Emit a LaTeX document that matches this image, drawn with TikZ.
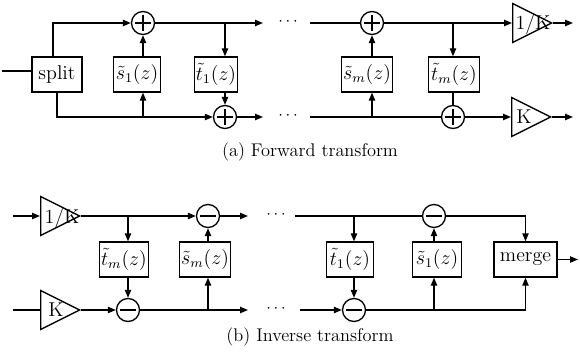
\documentclass[tikz,border=0pt]{standalone}
\usetikzlibrary{arrows.meta,shapes.geometric}
\tikzset{
  >={Triangle[length=4.8pt,width=3.8pt]},
  every path/.style={line width=0.8pt},
  lbl/.style={font=\fontsize{12}{14}\selectfont},
  blk/.style={draw, lbl, line width=0.8pt, minimum height=21pt, inner sep=1pt},
  sumc/.style={circle, draw, line width=0.8pt, minimum size=13.8pt, inner sep=0pt,
    path picture={
      \draw[line width=0.9pt] ([xshift=-4.6pt]path picture bounding box.center) -- ([xshift=4.6pt]path picture bounding box.center);
      \draw[line width=0.9pt] ([yshift=-4.6pt]path picture bounding box.center) -- ([yshift=4.6pt]path picture bounding box.center);}},
  difc/.style={circle, draw, line width=0.8pt, minimum size=13.8pt, inner sep=0pt,
    path picture={
      \draw[line width=1.3pt] ([xshift=-4.6pt]path picture bounding box.center) -- ([xshift=4.6pt]path picture bounding box.center);}},
  tri/.style={isosceles triangle, draw, line width=0.8pt, anchor=west, inner sep=0pt,
    minimum width=23.4pt, minimum height=23.4pt, isosceles triangle stretches},
  trit/.style={lbl, inner sep=0pt},
  dotsn/.style={inner sep=0pt},
  captxt/.style={font=\fontsize{11}{13}\selectfont},
}
\begin{document}
\begin{tikzpicture}[x=0.6pt,y=-0.6pt]
\useasboundingbox (0,0) rectangle (580,357);
% ---------------- Forward transform ----------------
\coordinate (in) at (2,71);
\node[blk, minimum width=30pt] (split) at (57,74.5) {split};
\node[sumc] (p1) at (143,23) {};
\node[blk, minimum width=28.2pt] (s1) at (137,74.5) {$\tilde{s}_1(z)$};
\node[blk, minimum width=24pt] (t1) at (216,74.5) {$\tilde{t}_1(z)$};
\node[sumc] (p2) at (225,117) {};
\coordinate (b1) at (225,23);
\coordinate (e1) at (263,23);
\coordinate (e2) at (263,117);
\node[dotsn] (d1) at (288,22) {$\cdots$};
\node[dotsn] (d2) at (288,116) {$\cdots$};

\draw (in) -- (in -| split.west);
\draw[->] ([xshift=-2.4pt]split.north) |- (p1.west);
\draw[->] (split.south) |- (p2.west);
\draw[->] (p1 |- p2) -- (p1 |- s1.south);
\draw[->] (p1 |- s1.north) -- (p1.south);
\draw[->] (p1.east) -- (e1);
\draw[->] (b1) -- (b1 |- t1.north);
\draw[->] (b1 |- t1.south) -- (p2.north);
\draw[->] (p2.east) -- (e2);

\coordinate (f1) at (310,23);
\coordinate (f2) at (310,117);
\node[sumc] (p3) at (372,23) {};
\node[blk, minimum width=29.4pt] (sm) at (367,74.5) {$\tilde{s}_m(z)$};
\node[blk, minimum width=30.6pt] (tm) at (454,74.5) {$\tilde{t}_m(z)$};
\node[sumc] (p4) at (453,117) {};
\coordinate (b2) at (453,23);
\node[tri] (g1) at (512,23) {};
\node[trit] (g1t) at (533,25) {1/K};
\node[tri] (g2) at (511,117) {};
\node[trit] (g2t) at (524,117) {K};
\coordinate (o1) at (573,23);
\coordinate (o2) at (573,117);

\draw (f1) -- (p3.west);
\draw[->] (p3.east) -- (g1.west);
\draw[->] (b2) -- (b2 |- tm.north);
\draw (b2 |- tm.south) -- (p4.north);
\draw (f2) -- (p4.west);
\draw[->] (p3 |- f2) -- (p3 |- sm.south);
\draw[->] (p3 |- sm.north) -- (p3.south);
\draw[->] (p4.east) -- (g2.west);
\draw[->] (g1.east) -- (o1);
\draw[->] (g2.east) -- (o2);

\node[captxt] (capa) at (310,152) {(a) Forward transform};

% ---------------- Inverse transform ----------------
\coordinate (i1) at (13,216);
\coordinate (i2) at (13,310);
\node[tri] (g3) at (40,216) {};
\node[trit] (g3t) at (62,218) {1/K};
\node[tri] (g4) at (40,310) {};
\node[trit] (g4t) at (56,310) {K};
\node[difc] (q1) at (208,216) {};
\node[blk, minimum width=28.8pt] (tm2) at (124,259.5) {$\tilde{t}_m(z)$};
\node[blk, minimum width=28.2pt] (sm2) at (205,259.5) {$\tilde{s}_m(z)$};
\node[difc] (q2) at (128,310) {};
\coordinate (b3) at (128,216);
\coordinate (e3) at (248,216);
\coordinate (e4) at (248,310);
\node[dotsn] (d3) at (276,215) {$\cdots$};
\node[dotsn] (d4) at (276,309) {$\cdots$};

\draw[->] (i1) -- (g3.west);
\draw (i2) -- (g4.west);
\draw[->] (g3.east) -- (q1.west);
\draw[->] (b3) -- (b3 |- tm2.north);
\draw[->] (b3 |- tm2.south) -- (q2.north);
\draw[->] (g4.east) -- (q2.west);
\draw[->] (q1.east) -- (e3);
\draw[->] (q2.east) -- (e4);
\draw[->] (q1 |- q2) -- (q1 |- sm2.south);
\draw[->] (q1 |- sm2.north) -- (q1.south);

\coordinate (h1) at (295,216);
\coordinate (h2) at (300,310);
\node[difc] (q3) at (434,216) {};
\node[blk, minimum width=28.2pt] (t12) at (350,259.5) {$\tilde{t}_1(z)$};
\node[blk, minimum width=29.4pt] (s12) at (437,259.5) {$\tilde{s}_1(z)$};
\node[blk, minimum width=37.8pt] (mg) at (525.5,259.5) {merge};
\node[difc] (q4) at (354,310) {};
\coordinate (b4) at (354,216);
\coordinate (o3) at (578,259.5);

\draw (h1) -- (q3.west);
\draw[->] (b4) -- (b4 |- t12.north);
\draw[->] (b4 |- t12.south) -- (q4.north);
\draw[->] (h2) -- (q4.west);
\draw[->] (q3 |- q4) -- (q3 |- s12.south);
\draw[->] (q3 |- s12.north) -- (q3.south);
\draw[->] (q3.east) -| (mg.north);
\draw[->] (q4.east) -| (mg.south);
\draw[->] (mg.east) -- (o3);

\node[captxt] (capb) at (310,337) {(b) Inverse transform};
\end{tikzpicture}
\end{document}
